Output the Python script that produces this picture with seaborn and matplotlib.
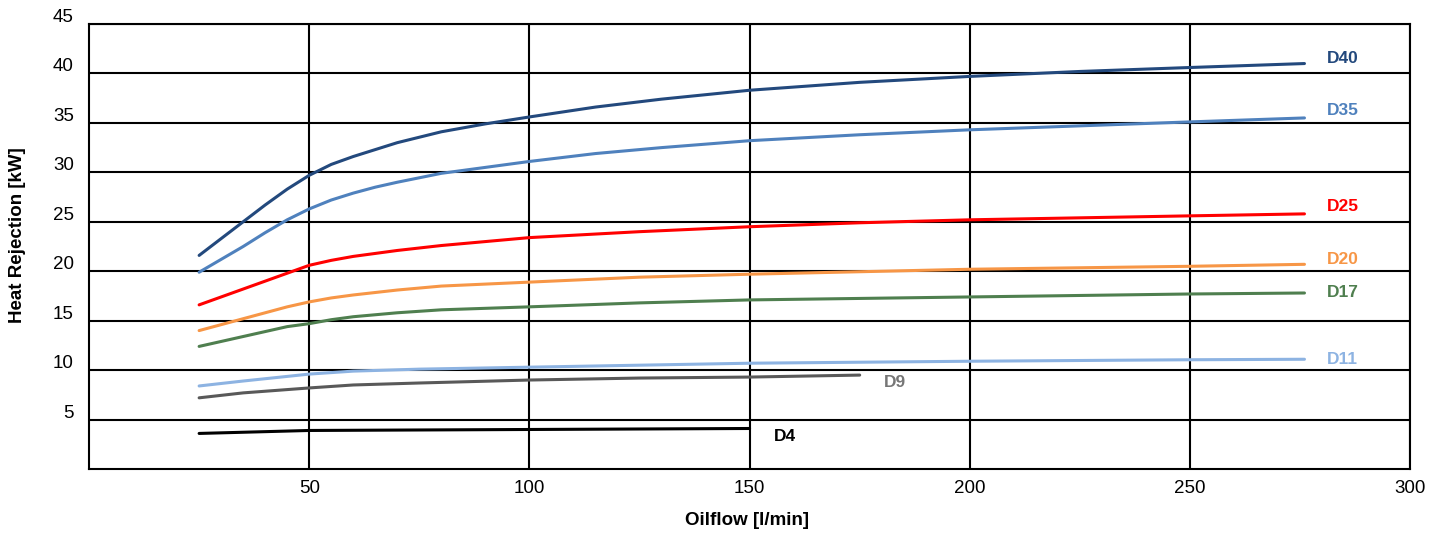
import numpy as np
import pandas as pd
import matplotlib
matplotlib.use("Agg")
import matplotlib.pyplot as plt
import matplotlib.transforms as mtransforms
import seaborn as sns

# ============================
# Data
# ============================

x_d40 = [25, 30, 35, 40, 45, 50, 55, 60, 65, 70, 80, 90, 100, 115, 130, 150, 175, 200, 225, 250, 276]
y_d40 = [21.6, 23.3, 25.0, 26.7, 28.3, 29.7, 30.8, 31.6, 32.3, 33.0, 34.1, 34.9, 35.6, 36.6, 37.4, 38.3, 39.1, 39.7, 40.2, 40.6, 41.0]

x_d35 = [25, 30, 35, 40, 45, 50, 55, 60, 65, 70, 80, 90, 100, 115, 130, 150, 175, 200, 225, 250, 276]
y_d35 = [19.9, 21.2, 22.5, 23.9, 25.2, 26.3, 27.2, 27.9, 28.5, 29.0, 29.9, 30.5, 31.1, 31.9, 32.5, 33.2, 33.8, 34.3, 34.7, 35.1, 35.5]

x_d25 = [25, 30, 35, 40, 45, 50, 55, 60, 70, 80, 90, 100, 125, 150, 175, 200, 225, 250, 276]
y_d25 = [16.6, 17.4, 18.2, 19.0, 19.8, 20.6, 21.1, 21.5, 22.1, 22.6, 23.0, 23.4, 24.0, 24.5, 24.9, 25.2, 25.4, 25.6, 25.8]

x_d20 = [25, 30, 35, 40, 45, 50, 55, 60, 70, 80, 90, 100, 125, 150, 200, 250, 276]
y_d20 = [14.0, 14.6, 15.2, 15.8, 16.4, 16.9, 17.3, 17.6, 18.1, 18.5, 18.7, 18.9, 19.4, 19.7, 20.2, 20.5, 20.7]

x_d17 = [25, 30, 35, 40, 45, 50, 55, 60, 70, 80, 100, 125, 150, 200, 250, 276]
y_d17 = [12.4, 12.9, 13.4, 13.9, 14.4, 14.7, 15.1, 15.4, 15.8, 16.1, 16.4, 16.8, 17.1, 17.4, 17.7, 17.8]

x_d11 = [25, 35, 50, 60, 75, 100, 150, 200, 250, 276]
y_d11 = [8.4, 8.9, 9.6, 9.9, 10.1, 10.3, 10.7, 10.9, 11.05, 11.1]

x_d9 = [25, 35, 50, 60, 75, 100, 125, 150, 175]
y_d9 = [7.2, 7.7, 8.2, 8.5, 8.7, 9.0, 9.2, 9.3, 9.5]

x_d4 = [25, 50, 100, 150]
y_d4 = [3.6, 3.9, 4.0, 4.1]

series = [
    ("D40", x_d40, y_d40, "#23497d", "#23497d", (281, 41.5)),
    ("D35", x_d35, y_d35, "#4f81bd", "#4f81bd", (281, 36.3)),
    ("D25", x_d25, y_d25, "#ff0000", "#ff0000", (281, 26.5)),
    ("D20", x_d20, y_d20, "#f79646", "#f79646", (281, 21.2)),
    ("D17", x_d17, y_d17, "#4f7f4f", "#4f7f4f", (281, 17.8)),
    ("D11", x_d11, y_d11, "#8db3e2", "#8db3e2", (281, 11.1)),
    ("D9", x_d9, y_d9, "#595959", "#767676", (180.5, 8.7)),
    ("D4", x_d4, y_d4, "#000000", "#000000", (155.5, 3.3)),
]

x_ticks = [50, 100, 150, 200, 250, 300]
y_ticks = [5, 10, 15, 20, 25, 30, 35, 40, 45]

# ============================
# Plot
# ============================

sns.set_style("white")
plt.rcParams["font.family"] = ["Liberation Sans", "DejaVu Sans"]
plt.rcParams["text.color"] = "black"
plt.rcParams["axes.labelcolor"] = "black"

fig = plt.figure(figsize=(14.36, 5.33), dpi=100)
ax = fig.add_axes([0.062, 0.12, 0.92, 0.835])

for name, xs, ys, color, label_color, pos in series:
    df = pd.DataFrame({"x": xs, "y": ys})
    sns.lineplot(data=df, x="x", y="y", color=color, linewidth=2.2, ax=ax)
    ax.text(pos[0], pos[1], name, color=label_color, fontsize=12.5,
            fontweight="bold", ha="left", va="center")

ax.set_xlim(0, 300)
ax.set_ylim(0, 45)
ax.set_xticks(x_ticks)
ax.set_yticks(y_ticks)
ax.grid(True, color="black", linewidth=1.5)
ax.set_axisbelow(True)

for spine in ax.spines.values():
    spine.set_color("black")
    spine.set_linewidth(1.5)

ax.tick_params(axis="both", length=0, labelsize=13.5, colors="black")
ax.tick_params(axis="y", pad=11)
ax.tick_params(axis="x", pad=8)

# tick labels sit slightly above their grid lines
offset = mtransforms.ScaledTranslation(0, 0.085, fig.dpi_scale_trans)
for lbl in ax.get_yticklabels():
    lbl.set_transform(lbl.get_transform() + offset)

ax.set_xlabel("Oilflow [l/min]", fontsize=13.5, fontweight="bold")
ax.set_ylabel("Heat Rejection [kW]", fontsize=13.5, fontweight="bold")
ax.xaxis.set_label_coords(0.498, -0.097)
ax.yaxis.set_label_coords(-0.048, 0.526)

plt.savefig("out.png", dpi=100)
plt.close()
